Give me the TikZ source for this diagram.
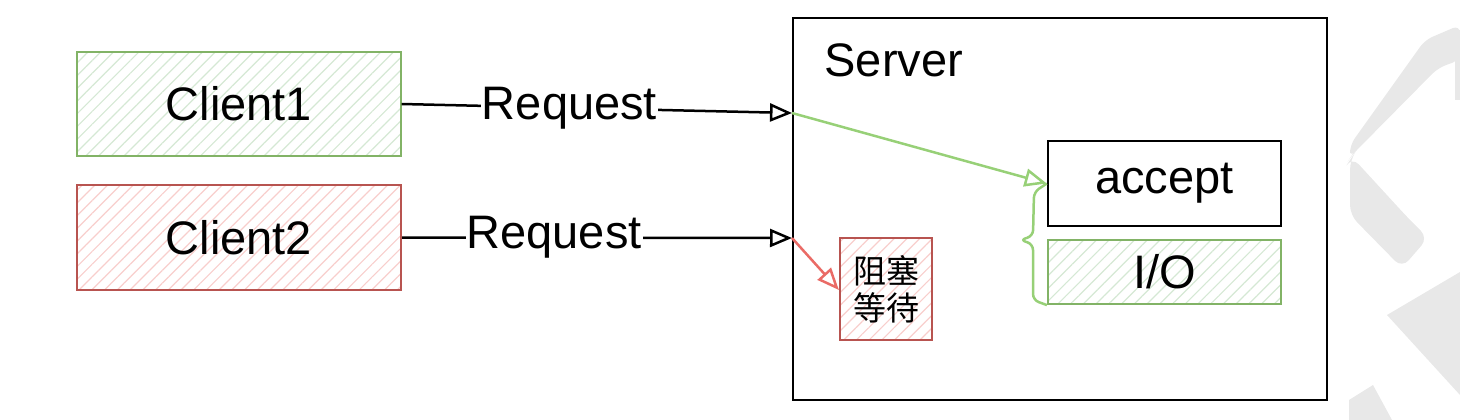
\documentclass[tikz,border=0pt]{standalone}
\usepackage{fontspec}
\setmainfont{Liberation Sans}
\newfontfamily\cjk{Noto Sans CJK SC}
\usetikzlibrary{arrows.meta,patterns.meta}
\definecolor{gstroke}{HTML}{82B366}
\definecolor{gfill}{HTML}{D5E8D4}
\definecolor{rstroke}{HTML}{B85450}
\definecolor{rfill}{HTML}{F8CECC}
\definecolor{garrow}{HTML}{97D077}
\definecolor{rarrow}{HTML}{EA6B66}
\definecolor{wm}{HTML}{E8E8E8}
\tikzset{
  txt/.style={font=\fontsize{47}{50}\selectfont},
  greenbox/.style={draw=gstroke,line width=2.2pt,pattern={Lines[angle=45,distance=9pt,line width=1.2pt]},pattern color=gfill,inner sep=0pt,txt},
  redbox/.style={draw=rstroke,line width=2.2pt,pattern={Lines[angle=45,distance=9pt,line width=1.2pt]},pattern color=rfill,inner sep=0pt,txt},
  plainbox/.style={draw=black,line width=2.5pt,fill=white,inner sep=0pt,txt},
  conn/.style={line width=2.5pt,-{Triangle[open,length=22pt,width=18pt,line width=2.5pt]}},
  lbl/.style={fill=white,inner sep=1pt,txt}
}
\begin{document}
\begin{tikzpicture}[x=1pt,y=-1pt]
\useasboundingbox (0,0) rectangle (1460,420);
% watermark
\fill[wm,rounded corners=8pt] (1350,145) -- (1425,40) -- (1460,25) -- (1460,60) -- (1438,68) -- (1352,155) -- (1350,158) -- cycle;
\fill[wm,rounded corners=10pt] (1350,160) -- (1352,157) -- (1408,218) -- (1428,238) -- (1402,268) -- (1350,215) -- cycle;
\fill[wm] (1455,30) rectangle (1460,100);
\fill[wm] (1387,315) -- (1460,272) -- (1460,395) -- cycle;
\fill[wm] (1349,400) -- (1373,385) -- (1392,420) -- (1349,420) -- cycle;
% nodes
\node[greenbox,minimum width=324pt,minimum height=104pt] (c1) at (239,104) {Client1};
\node[redbox,minimum width=324pt,minimum height=105pt] (c2) at (239,237.5) {Client2};
\node[draw=black,line width=2.5pt,minimum width=534pt,minimum height=382pt,inner sep=0pt] (srv) at (1060,209) {};
\node[txt,anchor=west] (title) at (821,60) {Server};
\node[plainbox,minimum width=233pt,minimum height=85pt] (acc) at (1164.5,183.5) {accept};
\node[greenbox,minimum width=233pt,minimum height=64pt] (io) at (1164.5,272) {I/O};
\node[redbox,minimum width=92pt,minimum height=102pt,font=\cjk\fontsize{33}{37}\selectfont,align=center] (wait) at (886,289) {阻塞\\等待};
\coordinate (s1) at (792,113);
\coordinate (s2) at (792,238);
% connectors
\draw[conn] (c1.east) -- node[lbl,pos=0.43] (r1) {Request} (s1);
\draw[conn] (c2.east) -- node[lbl,pos=0.39] (r2) {Request} (s2);
\draw[conn,garrow] (s1) -- (acc.west);
\draw[conn,rarrow] (s2) -- (wait.west |- 0,290);
\draw[garrow,line width=2.5pt,rounded corners=6pt] (acc.west) -- (1034,192) -- (1033,236) -- (1020,240) -- (1033,244) -- (1033,300) -- (io.south west);
\end{tikzpicture}
\end{document}
